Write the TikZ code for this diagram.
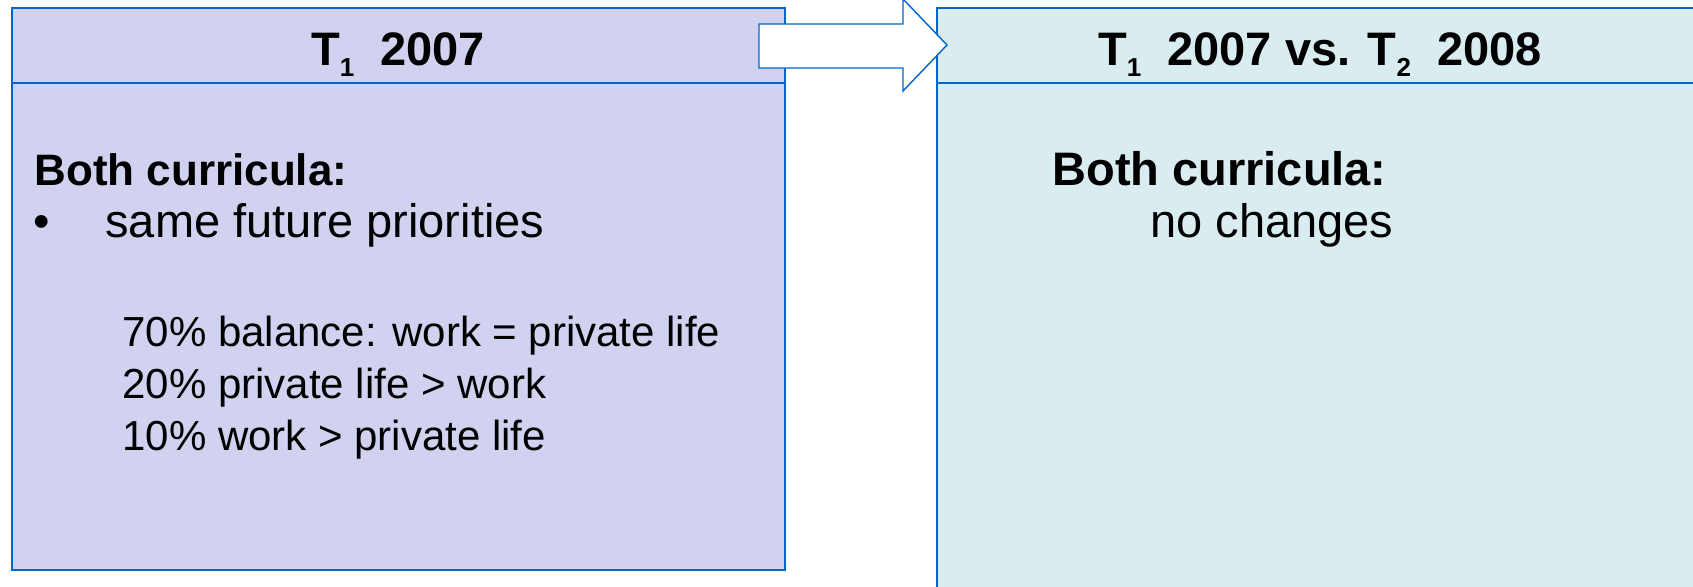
\documentclass[tikz,border=0pt]{standalone}
\usepackage{fontspec}
\setmainfont{Liberation Sans}
\definecolor{bordblue}{HTML}{0066CC}
\definecolor{leftfill}{HTML}{D0D2EF}
\definecolor{rightfill}{HTML}{D9ECEF}
\newcommand\lowsub[1]{\raisebox{-5.5pt}{\fontsize{13}{13}\selectfont #1}}
\tikzset{
  panel/.style={draw=bordblue, line width=0.85pt, inner sep=0pt, outer sep=0pt},
  headtext/.style={anchor=base, font=\fontsize{23.5}{28}\selectfont\bfseries, inner sep=0pt},
  bodybold/.style={anchor=base west, font=\fontsize{23.5}{28}\selectfont\bfseries, inner sep=0pt},
  leftbold/.style={anchor=base west, font=\fontsize{22}{26}\selectfont\bfseries, inner sep=0pt},
  bodytext/.style={anchor=base west, font=\fontsize{23.5}{28}\selectfont, inner sep=0pt},
  smalltext/.style={anchor=base west, font=\fontsize{21}{25}\selectfont, inner sep=0pt},
  bigarrow/.style={draw=bordblue, line width=0.7pt, fill=white, line join=miter}
}
\begin{document}
\begin{tikzpicture}[x=0.5pt,y=-0.5pt]
\useasboundingbox (0,0) rectangle (1693,586);
\clip (0,0) rectangle (1693,586);
% left panel
\node[panel, fill=leftfill, minimum width=386.5pt, minimum height=281pt] (left) at (398.5,289) {};
\draw[draw=bordblue, line width=0.85pt] (12,83) -- (785,83);
% right panel
\node[panel, fill=rightfill, minimum width=383pt, minimum height=296pt] (right) at (1320,304) {};
\draw[draw=bordblue, line width=0.85pt] (937,83) -- (1703,83);
% headers
\node[headtext] (h1) at (398,65) {T\lowsub{1}\ \ 2007};
\node[headtext] (h2) at (1320,65) {T\lowsub{1}\ \ 2007 vs. T\lowsub{2}\ \ 2008};
% left body
\node[leftbold] (lb) at (34,185) {Both curricula:};
\node[bodytext] (bul) at (33,237) {\textbullet};
\node[bodytext] (same) at (105,237) {same future priorities};
\node[smalltext] (l1) at (122,346) {70\% balance: work = private life};
\node[smalltext] (l2) at (122,398) {20\% private life > work};
\node[smalltext] (l3) at (122,450) {10\% work > private life};
% right body
\node[bodybold] (rb) at (1052,185) {Both curricula:};
\node[bodytext] (nc) at (1150,237) {no changes};
% arrow
\draw[bigarrow] (759,24) -- (903,24) -- (903,-1) -- (947,45) -- (903,91) -- (903,68) -- (759,68) -- cycle;
\end{tikzpicture}
\end{document}
